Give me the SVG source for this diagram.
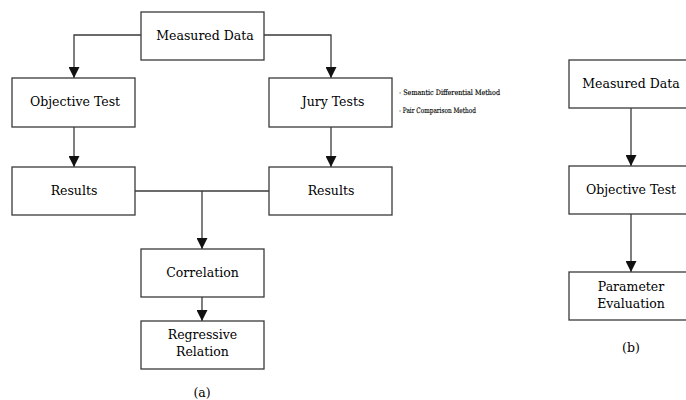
<svg xmlns="http://www.w3.org/2000/svg" width="686" height="400" viewBox="0 0 686 400">
<style>
.box{fill:#fff;stroke:#3a3a3a;stroke-width:1.3}
.lbl{font-family:'DejaVu Serif','Liberation Serif',serif;font-size:12.5px;fill:#000;text-anchor:middle}
.ann{font-family:'DejaVu Serif','Liberation Serif',serif;font-size:7.5px;fill:#000;stroke:#000;stroke-width:0.15}
.ln{fill:none;stroke:#3a3a3a;stroke-width:1.3}
</style>
<defs>
<marker id="ah" markerUnits="userSpaceOnUse" markerWidth="12" markerHeight="11" refX="11" refY="5.5" orient="auto">
<path d="M0,0 L11,5.5 L0,11 Z" fill="#111"/>
</marker>
</defs>
<rect width="686" height="400" fill="#fff"/>
<g id="connectors">
<path class="ln" d="M141,35 H74 V78" marker-end="url(#ah)"/>
<path class="ln" d="M264,35 H331 V78" marker-end="url(#ah)"/>
<path class="ln" d="M74,127 V167" marker-end="url(#ah)"/>
<path class="ln" d="M331,127 V167" marker-end="url(#ah)"/>
<path class="ln" d="M135,191 H269"/>
<path class="ln" d="M202,191 V249" marker-end="url(#ah)"/>
<path class="ln" d="M202,297 V321" marker-end="url(#ah)"/>
<path class="ln" d="M631,108 V166" marker-end="url(#ah)"/>
<path class="ln" d="M631,214 V272" marker-end="url(#ah)"/>
</g>
<g id="measured-a"><rect class="box" x="141" y="12" width="123" height="48"/><text class="lbl" x="205" y="40">Measured Data</text></g>
<g id="objective-a"><rect class="box" x="12" y="78" width="123" height="49"/><text class="lbl" x="75" y="106">Objective Test</text></g>
<g id="jury"><rect class="box" x="269" y="78" width="123" height="49"/><text class="lbl" x="333" y="106">Jury Tests</text></g>
<g id="results-left"><rect class="box" x="12" y="167" width="123" height="48"/><text class="lbl" x="74" y="195">Results</text></g>
<g id="results-right"><rect class="box" x="269" y="167" width="123" height="48"/><text class="lbl" x="331" y="195">Results</text></g>
<g id="correlation"><rect class="box" x="141" y="249" width="123" height="48"/><text class="lbl" x="202.5" y="277">Correlation</text></g>
<g id="regressive"><rect class="box" x="141" y="321" width="123" height="48"/><text class="lbl" x="202.5" y="339">Regressive</text><text class="lbl" x="202.5" y="356">Relation</text></g>
<g id="annotations">
<text class="ann" x="399" y="95" textLength="101" lengthAdjust="spacingAndGlyphs">- Semantic Differential Method</text>
<text class="ann" x="399" y="113" textLength="77" lengthAdjust="spacingAndGlyphs">- Pair Comparison Method</text>
</g>
<g id="caption-a"><text class="lbl" x="202" y="397">(a)</text></g>
<g id="measured-b"><rect class="box" x="569" y="60" width="124" height="48"/><text class="lbl" x="631" y="88">Measured Data</text></g>
<g id="objective-b"><rect class="box" x="569" y="166" width="124" height="48"/><text class="lbl" x="631" y="194">Objective Test</text></g>
<g id="parameter"><rect class="box" x="569" y="272" width="124" height="48"/><text class="lbl" x="631" y="291">Parameter</text><text class="lbl" x="631" y="308">Evaluation</text></g>
<g id="caption-b"><text class="lbl" x="631" y="352">(b)</text></g>
</svg>
